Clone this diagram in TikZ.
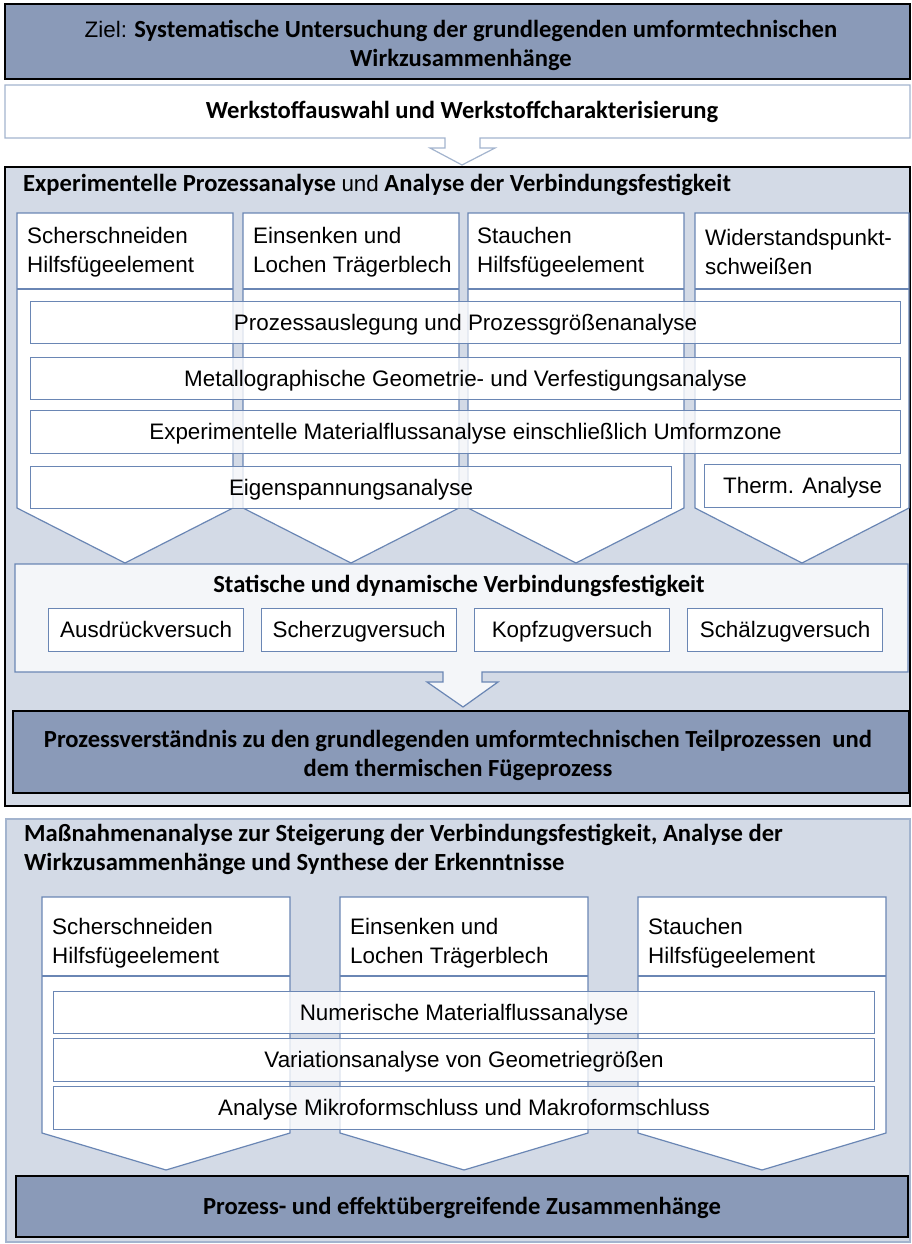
\documentclass[tikz,border=0pt]{standalone}
\usepackage{fontspec}
\setmainfont{Liberation Sans}
\newfontfamily\cbfont{Carlito}
\definecolor{darkfill}{HTML}{8A9AB8}
\definecolor{panelfill}{HTML}{D3DAE6}
\definecolor{chevblue}{HTML}{6A86B4}
\definecolor{lightborder}{HTML}{A3B4CE}
\definecolor{statfill}{HTML}{F4F6F9}
\newcommand\regf{\fontsize{22.4}{29}\selectfont\rmfamily\mdseries}
\newcommand\boldf{\fontsize{24.6}{29}\selectfont\cbfont\bfseries}
\tikzset{
  darkbox/.style={fill=darkfill, draw=black, line width=1.6pt},
  panelbox/.style={fill=panelfill, draw=black, line width=1.6pt},
  chev/.style={fill=white, draw=chevblue, line width=1.2pt, line join=miter},
  rowbox/.style={draw=chevblue, line width=1.2pt, fill=white, fill opacity=0.78, text opacity=1, inner sep=0pt, anchor=north west, font=\regf, text height=18pt, text depth=3pt},
  testbox/.style={draw=chevblue, line width=1.2pt, fill=white, inner sep=0pt, anchor=north west, minimum width=195pt, minimum height=43pt, font=\regf, text height=18pt, text depth=3pt},
  head/.style={anchor=west, align=left, inner sep=0pt, font=\regf},
  btitle/.style={inner sep=0pt, font=\boldf},
}
\begin{document}
\begin{tikzpicture}[x=1pt,y=-1pt]
\useasboundingbox (0,0) rectangle (912,1244);
\fill[white] (0,0) rectangle (912,1244);

% Ziel
\draw[darkbox] (5,4) rectangle (910,79);
\node[btitle, align=center] (ziel) at (461,45) {{\regf Ziel:} Systematische Untersuchung der grundlegenden umformtechnischen\\Wirkzusammenhänge};

% Werkstoff arrow box
\draw[fill=white, draw=lightborder, line width=1.2pt] (5,85) -- (910,85) -- (910,138) -- (480,138) -- (480,148) -- (495,148) -- (462,165) -- (430,148) -- (445,148) -- (445,138) -- (5,138) -- cycle;
\node[btitle, text height=17pt, text depth=5pt] (werk) at (462,113) {Werkstoffauswahl und Werkstoffcharakterisierung};

% Experimental panel
\draw[panelbox] (5,167) rectangle (910,806);
\node[btitle, anchor=west, text height=17pt, text depth=5pt] (exptitle) at (23,185) {Experimentelle Prozessanalyse {\regf und} Analyse der Verbindungsfestigkeit};

% chevrons top
\foreach \a/\b in {17/233, 243/459, 468/684, 695/909}{
  \draw[chev] (\a,213) -- (\b,213) -- (\b,508) -- ({(\a+\b)/2},563) -- (\a,508) -- cycle;
  \draw[draw=chevblue, line width=1.2pt] (\a,289) -- (\b,289);
}
\node[head] (c1) at (27,252) {Scherschneiden\\Hilfsfügeelement};
\node[head] (c2) at (253,252) {Einsenken und\\Lochen Trägerblech};
\node[head] (c3) at (477,252) {Stauchen\\Hilfsfügeelement};
\node[head] (c4) at (705,252) {Widerstandspunkt-\\schweißen};

% rows
\node[rowbox, minimum width=870pt, minimum height=42pt] (r1) at (30,301) {Prozessauslegung und Prozessgrößenanalyse};
\node[rowbox, minimum width=870pt, minimum height=42pt] (r2) at (30,357) {Metallographische Geometrie- und Verfestigungsanalyse};
\node[rowbox, minimum width=870pt, minimum height=43pt] (r3) at (30,410) {Experimentelle Materialflussanalyse einschließlich Umformzone};
\node[rowbox, minimum width=641pt, minimum height=42pt] (r4) at (30,466) {Eigenspannungsanalyse};
\node[rowbox, minimum width=196pt, minimum height=43pt] (r5) at (704,464) {Therm. Analyse};

% Statische arrow box
\draw[fill=statfill, draw=chevblue, line width=1.2pt] (15,564) -- (908,564) -- (908,672) -- (482,672) -- (482,682) -- (498,682) -- (463,707) -- (427,682) -- (443,682) -- (443,672) -- (15,672) -- cycle;
\node[btitle, text height=17pt, text depth=5pt] (stat) at (459,586) {Statische und dynamische Verbindungsfestigkeit};
\node[testbox] (t1) at (48,608) {Ausdrückversuch};
\node[testbox] (t2) at (261,608) {Scherzugversuch};
\node[testbox] (t3) at (474,608) {Kopfzugversuch};
\node[testbox] (t4) at (687,608) {Schälzugversuch};

% Prozessverstaendnis
\draw[darkbox] (13,711) rectangle (909,793);
\node[btitle, align=center] (pv) at (458,755) {Prozessverständnis zu den grundlegenden umformtechnischen Teilprozessen\ \ und\\dem thermischen Fügeprozess};

% bottom panel
\draw[fill=panelfill, draw=lightborder, line width=1.4pt] (6,819) rectangle (910,1242);
\node[btitle, anchor=north west, align=left] (mtitle) at (24,824) {Maßnahmenanalyse zur Steigerung der Verbindungsfestigkeit, Analyse der\\Wirkzusammenhänge und Synthese der Erkenntnisse};

\foreach \a/\b in {42/290, 340/588, 638/886}{
  \draw[chev] (\a,897) -- (\b,897) -- (\b,1133) -- ({(\a+\b)/2},1170) -- (\a,1133) -- cycle;
  \draw[draw=chevblue, line width=1.2pt] (\a,976) -- (\b,976);
}
\node[head] (d1) at (52,943) {Scherschneiden\\Hilfsfügeelement};
\node[head] (d2) at (350,943) {Einsenken und\\Lochen Trägerblech};
\node[head] (d3) at (648,943) {Stauchen\\Hilfsfügeelement};

\node[rowbox, minimum width=821pt, minimum height=42pt] (s1) at (53,991) {Numerische Materialflussanalyse};
\node[rowbox, minimum width=821pt, minimum height=43pt] (s2) at (53,1038) {Variationsanalyse von Geometriegrößen};
\node[rowbox, minimum width=821pt, minimum height=43pt] (s3) at (53,1086) {Analyse Mikroformschluss und Makroformschluss};

\draw[darkbox] (16,1176) rectangle (908,1237);
\node[btitle, text height=17pt, text depth=5pt] (pe) at (462,1208) {Prozess- und effektübergreifende Zusammenhänge};
\end{tikzpicture}
\end{document}
